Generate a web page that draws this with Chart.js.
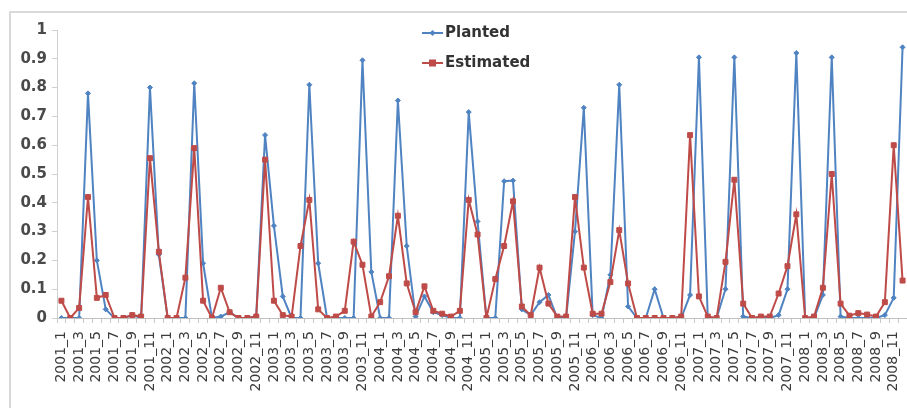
<!DOCTYPE html>
<html lang="en">
<head>
    <meta charset="UTF-8">
    <title>Planted vs Estimated</title>
    <script src="https://cdn.jsdelivr.net/npm/chart.js"></script>
    <style>
        html, body { margin: 0; padding: 0; background: #fff; overflow: hidden; }
        body { width: 907px; height: 408px; position: relative; }
        #frame {
            position: absolute; left: 9px; top: 11px; width: 1000px; height: 500px;
            border-top: 2px solid #d9d9d9; border-left: 2px solid #d9d9d9;
        }
        #myChart { position: absolute; left: 0; top: 0; }
    </style>
</head>
<body>
    <div id="frame"></div>
    <canvas id="myChart" width="912" height="408"></canvas>

    <script>
        // categories: monthly, 2001_1 .. 2008_12
        const years = [2001, 2002, 2003, 2004, 2005, 2006, 2007, 2008];
        const months = [1, 2, 3, 4, 5, 6, 7, 8, 9, 10, 11, 12];
        const categories = years.flatMap(y => months.map(m => y + '_' + m));

        const yTicks = [0, 0.1, 0.2, 0.3, 0.4, 0.5, 0.6, 0.7, 0.8, 0.9, 1];

        const planted = [
            0, 0, 0, 0.78, 0.2, 0.03, 0, 0, 0.01, 0, 0.8, 0.22,
            0, 0, 0, 0.815, 0.19, 0, 0.005, 0.02, 0, 0, 0.005, 0.635,
            0.32, 0.075, 0, 0, 0.81, 0.19, 0, 0, 0, 0, 0.895, 0.16,
            0, 0, 0.755, 0.25, 0.005, 0.075, 0.02, 0.01, 0, 0, 0.715, 0.335,
            0, 0, 0.475, 0.477, 0.03, 0.01, 0.055, 0.08, 0, 0, 0.3, 0.73,
            0.01, 0, 0.15, 0.81, 0.04, 0, 0, 0.1, 0, 0, 0, 0.08,
            0.905, 0, 0, 0.1, 0.905, 0.005, 0, 0, 0, 0.01, 0.1, 0.92,
            0, 0, 0.08, 0.905, 0.005, 0, 0, 0, 0, 0.01, 0.07, 0.94
        ];

        const estimated = [
            0.06, 0, 0.035, 0.42, 0.07, 0.08, 0, 0, 0.01, 0.005, 0.555, 0.23,
            0, 0, 0.14, 0.59, 0.06, 0, 0.105, 0.02, 0, 0, 0.005, 0.55,
            0.06, 0.01, 0.005, 0.25, 0.41, 0.03, 0, 0.005, 0.025, 0.265, 0.185, 0.005,
            0.055, 0.145, 0.355, 0.12, 0.02, 0.11, 0.025, 0.015, 0.005, 0.025, 0.41, 0.29,
            0, 0.135, 0.25, 0.405, 0.04, 0.01, 0.175, 0.05, 0.005, 0.005, 0.42, 0.175,
            0.015, 0.015, 0.125, 0.305, 0.12, 0, 0, 0, 0, 0, 0.005, 0.635,
            0.075, 0.005, 0, 0.195, 0.48, 0.05, 0, 0.005, 0.005, 0.085, 0.18, 0.36,
            0, 0.005, 0.105, 0.5, 0.05, 0.008, 0.017, 0.012, 0.005, 0.055, 0.6, 0.13
        ];

        const blue = '#4f83c1';
        const red = '#be4b48';

        // legend drawn inside the plot, top centre
        const insideLegend = {
            id: 'insideLegend',
            afterDraw(chart) {
                const ctx = chart.ctx;
                const rows = [33, 63];
                chart.data.datasets.forEach((ds, i) => {
                    const y = rows[i];
                    ctx.save();
                    ctx.strokeStyle = ds.borderColor;
                    ctx.fillStyle = ds.borderColor;
                    ctx.lineWidth = 2;
                    ctx.beginPath();
                    ctx.moveTo(422, y);
                    ctx.lineTo(443, y);
                    ctx.stroke();
                    if (ds.pointStyle === 'rect') {
                        ctx.fillRect(429, y - 3.5, 7, 7);
                    } else {
                        ctx.beginPath();
                        ctx.moveTo(432.5, y - 3);
                        ctx.lineTo(435.5, y);
                        ctx.lineTo(432.5, y + 3);
                        ctx.lineTo(429.5, y);
                        ctx.closePath();
                        ctx.fill();
                    }
                    ctx.fillStyle = '#333';
                    ctx.font = 'bold 15px "DejaVu Sans"';
                    ctx.textBaseline = 'middle';
                    ctx.fillText(ds.label, 445, y);
                    ctx.restore();
                });
            }
        };

        const ctx = document.getElementById('myChart').getContext('2d');
        const myChart = new Chart(ctx, {
            type: 'line',
            data: {
                labels: categories,
                datasets: [{
                    label: 'Planted',
                    data: planted,
                    borderColor: blue,
                    backgroundColor: blue,
                    borderWidth: 2,
                    pointStyle: 'rectRot',
                    pointRadius: 2.5,
                    pointBorderWidth: 1,
                    tension: 0,
                    order: 2
                }, {
                    label: 'Estimated',
                    data: estimated,
                    borderColor: red,
                    backgroundColor: red,
                    borderWidth: 2,
                    pointStyle: 'rect',
                    pointRadius: 3.5,
                    pointBorderWidth: 1,
                    tension: 0,
                    order: 1
                }]
            },
            options: {
                responsive: false,
                animation: false,
                layout: { padding: { top: 30, left: 0, right: 0, bottom: 0 } },
                plugins: {
                    legend: { display: false },
                    tooltip: { enabled: false }
                },
                scales: {
                    x: {
                        offset: true,
                        grid: {
                            drawOnChartArea: false,
                            drawTicks: true,
                            tickLength: 5,
                            color: '#c8c8c8',
                            offset: true
                        },
                        border: { display: true, color: '#bfbfbf' },
                        ticks: {
                            autoSkip: false,
                            maxRotation: 90,
                            minRotation: 90,
                            padding: 8,
                            color: '#3c3c3c',
                            font: { family: 'DejaVu Sans', size: 14 },
                            callback: function (value, index) {
                                return index % 2 === 0 ? this.getLabelForValue(value) : '';
                            }
                        },
                        afterFit: function (scale) {
                            scale.height = 90;
                            scale.paddingLeft = 0;
                            scale.paddingRight = 0;
                        }
                    },
                    y: {
                        min: 0,
                        max: 1,
                        afterBuildTicks: function (scale) {
                            scale.ticks = yTicks.map(v => ({ value: v }));
                        },
                        grid: {
                            drawOnChartArea: false,
                            tickLength: 5,
                            color: '#d0d0d0'
                        },
                        border: { display: true, color: '#d0d0d0' },
                        ticks: {
                            padding: 5,
                            color: '#4a4a4a',
                            font: { family: 'DejaVu Sans', size: 15, weight: 'bold' },
                            callback: function (value) {
                                return String(Math.round(value * 10) / 10);
                            }
                        },
                        afterFit: function (scale) { scale.width = 57; }
                    }
                }
            },
            plugins: [insideLegend]
        });
    </script>
</body>
</html>
